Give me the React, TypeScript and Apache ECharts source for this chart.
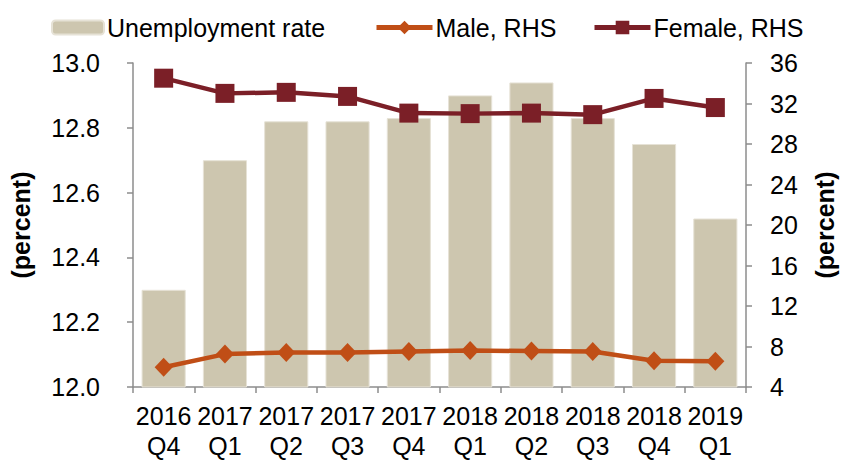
import React, { useEffect, useRef } from "react";
import * as echarts from "echarts";

const categories = ["2016\nQ4", "2017\nQ1", "2017\nQ2", "2017\nQ3", "2017\nQ4", "2018\nQ1", "2018\nQ2", "2018\nQ3", "2018\nQ4", "2019\nQ1"];
const unemploymentRate = [12.3, 12.7, 12.82, 12.82, 12.83, 12.9, 12.94, 12.83, 12.75, 12.52];
const maleRHS = [5.95, 7.25, 7.4, 7.4, 7.5, 7.6, 7.55, 7.5, 6.6, 6.55];
const femaleRHS = [34.5, 33.0, 33.1, 32.7, 31.05, 31.0, 31.05, 30.9, 32.5, 31.6];

const FONT = "Liberation Sans, Arial, sans-serif";
const AXIS_COLOR = "#8c8c8c";
const BAR_COLOR = "#CDC6AF";
const MALE_COLOR = "#C04E16";
const FEMALE_COLOR = "#7B1F27";
const FS = 25;

export default function App() {
  const ref = useRef<HTMLDivElement>(null);
  useEffect(() => {
    if (!ref.current) return;
    const chart = echarts.init(ref.current, undefined, { renderer: "svg" });
    const legendText = { fontFamily: FONT, fontSize: FS, color: "#000", padding: [0, 0, 0, -2] };
    chart.setOption({
      animation: false,
      textStyle: { fontFamily: FONT },
      legend: [
        {
          data: ["Unemployment rate"],
          left: 46,
          top: 10,
          itemWidth: 52,
          itemHeight: 14,
          textStyle: legendText,
        },
        {
          data: ["Male, RHS"],
          left: 369,
          top: 10,
          itemWidth: 56,
          itemHeight: 17,
          lineStyle: { width: 5, color: MALE_COLOR },
          textStyle: legendText,
        },
        {
          data: ["Female, RHS"],
          left: 587,
          top: 10,
          itemWidth: 56,
          itemHeight: 17,
          lineStyle: { width: 5, color: FEMALE_COLOR },
          textStyle: legendText,
        },
      ],
      grid: { left: 128, right: 97, top: 63, bottom: 73, containLabel: false },
      xAxis: {
        type: "category",
        data: categories,
        axisLine: { lineStyle: { color: AXIS_COLOR, width: 1.5 } },
        axisTick: { show: true, length: 6, lineStyle: { color: AXIS_COLOR, width: 1.5 } },
        axisLabel: { color: "#000", fontSize: FS, lineHeight: 30, margin: 14, fontFamily: FONT, interval: 0 },
      },
      yAxis: [
        {
          type: "value",
          min: 12,
          max: 13,
          interval: 0.2,
          position: "left",
          name: "(percent)",
          nameLocation: "middle",
          nameGap: 100,
          nameRotate: 90,
          nameTextStyle: { fontSize: FS, fontWeight: "bold", color: "#000", fontFamily: FONT },
          splitLine: { show: false },
          axisLine: { show: true, lineStyle: { color: AXIS_COLOR, width: 1.5 } },
          axisTick: { show: true, length: 6, lineStyle: { color: AXIS_COLOR, width: 1.5 } },
          axisLabel: {
            color: "#000",
            fontSize: FS,
            margin: 33,
            fontFamily: FONT,
            formatter: (v: number) => v.toFixed(1),
          },
        },
        {
          type: "value",
          min: 4,
          max: 36,
          interval: 4,
          position: "right",
          name: "(percent)",
          nameLocation: "middle",
          nameGap: 66,
          nameRotate: 90,
          nameTextStyle: { fontSize: FS, fontWeight: "bold", color: "#000", fontFamily: FONT },
          splitLine: { show: false },
          axisLine: { show: true, lineStyle: { color: AXIS_COLOR, width: 1.5 } },
          axisTick: { show: true, length: 6, lineStyle: { color: AXIS_COLOR, width: 1.5 } },
          axisLabel: { color: "#000", fontSize: FS, margin: 24, fontFamily: FONT },
        },
      ],
      series: [
        {
          name: "Unemployment rate",
          type: "bar",
          yAxisIndex: 0,
          data: unemploymentRate,
          barWidth: "72%",
          itemStyle: { color: BAR_COLOR, borderColor: "#e6e2d6", borderWidth: 1 },
        },
        {
          name: "Male, RHS",
          type: "line",
          yAxisIndex: 1,
          data: maleRHS,
          symbol: "diamond",
          symbolSize: [18, 19],
          lineStyle: { color: MALE_COLOR, width: 4.5 },
          itemStyle: { color: MALE_COLOR },
        },
        {
          name: "Female, RHS",
          type: "line",
          yAxisIndex: 1,
          data: femaleRHS,
          symbol: "rect",
          symbolSize: 19,
          lineStyle: { color: FEMALE_COLOR, width: 4.5 },
          itemStyle: { color: FEMALE_COLOR },
        },
      ],
    });
    return () => chart.dispose();
  }, []);
  return <div ref={ref} style={{ width: 845, height: 461, position: "absolute", left: 0, top: 0 }} />;
}
